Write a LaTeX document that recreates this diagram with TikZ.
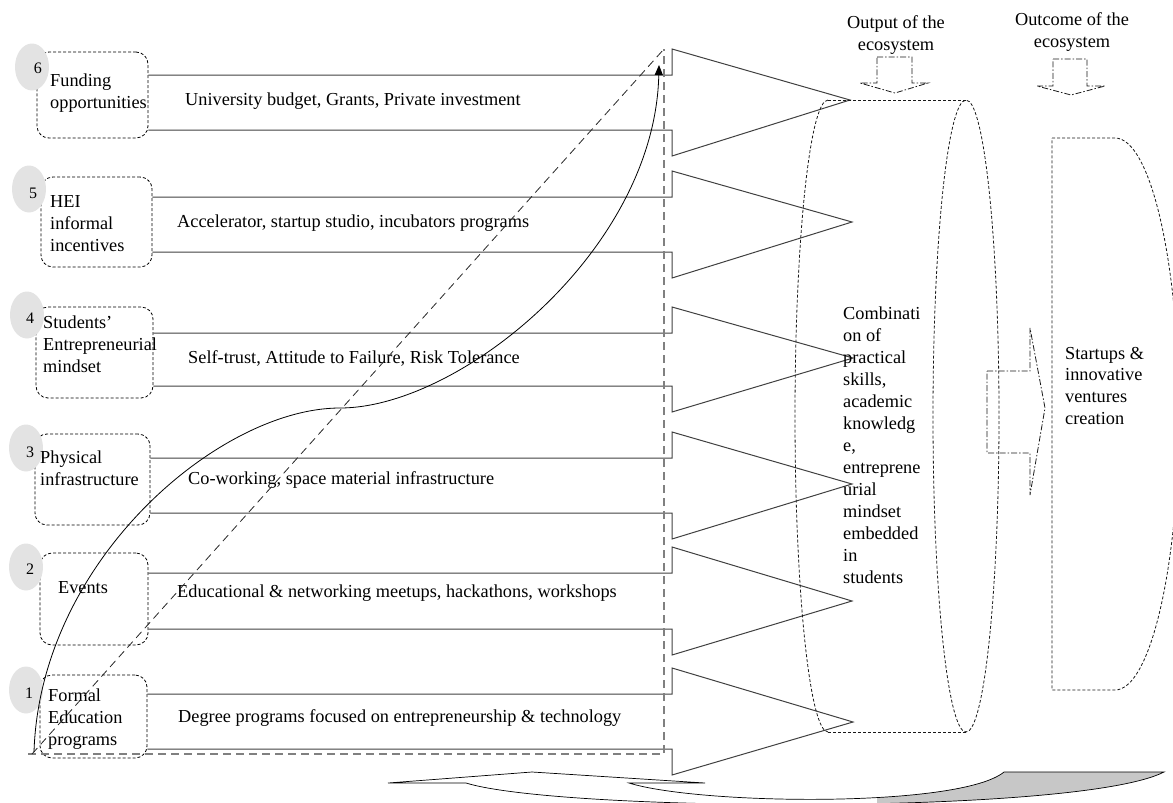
\documentclass[tikz,border=0pt]{standalone}
\usepackage{fontspec}
\setmainfont{Liberation Serif}
\usetikzlibrary{shapes.geometric,arrows.meta}
\tikzstyle{stageBox}=[shape = rectangle, rounded corners = 12pt, draw, dash pattern = on 3pt off 2pt, line width = 0.8pt, inner sep = 0pt]
\tikzstyle{stageBlob}=[shape = ellipse, fill = black!11, minimum width = 34pt, minimum height = 47pt, inner sep = 0pt]
\tikzstyle{plainText}=[inner sep = 0pt, align = left, font = \fontsize{18.3}{22}\selectfont]

\begin{document}
\begin{tikzpicture}[x = 1pt, y = -1pt]
\tikzstyle{bandLine} = [draw = black!75, line width = 1pt]
\tikzstyle{digitText} = [inner sep = 0pt, font = \fontsize{16}{18}\selectfont]
\tikzstyle{thinDash} = [draw = black!90, line width = 0.8pt, dash pattern = on 3pt off 2pt]
\tikzstyle{dotDash} = [draw = black!90, line width = 0.8pt, dash pattern = on 6pt off 2pt on 1.5pt off 2pt]
\tikzstyle{guideDash} = [draw = black!50, line width = 1.5pt, dash pattern = on 8pt off 5pt]
\tikzstyle{slopeDash} = [draw = black!85, line width = 0.8pt, dash pattern = on 8pt off 5pt]
\useasboundingbox (0,0) rectangle (1173,803);
\node[stageBox, minimum width = 111pt, minimum height = 86pt] (fund) at (92.5,95) {};
\node[stageBox, minimum width = 111pt, minimum height = 90pt] (hei) at (96.5,222) {};
\node[stageBox, minimum width = 117pt, minimum height = 91pt] (mind) at (94.5,352.5) {};
\node[stageBox, minimum width = 115pt, minimum height = 91pt] (infra) at (92.5,479.5) {};
\node[stageBox, minimum width = 108pt, minimum height = 92pt] (events) at (94,599) {};
\node[stageBox, minimum width = 107pt, minimum height = 83pt] (formal) at (93.5,716.5) {};
\node[stageBlob] (blob6) at (32,67) {};
\node[stageBlob] (blob5) at (29,189) {};
\node[stageBlob] (blob4) at (27,315) {};
\node[stageBlob] (blob3) at (26,448) {};
\node[stageBlob] (blob2) at (26,567) {};
\node[stageBlob] (blob1) at (26,690) {};
\node[digitText] (num6) at (38,68) {6};
\node[digitText] (num5) at (33,193) {5};
\node[digitText] (num4) at (30,318) {4};
\node[digitText] (num3) at (30,452) {3};
\node[digitText] (num2) at (30,569) {2};
\node[digitText] (num1) at (29,693) {1};
\node[plainText, anchor = west] (fundText) at (50,93) {Funding\\opportunities};
\node[plainText, anchor = west] (heiText) at (50,224) {HEI\\informal\\incentives};
\node[plainText, anchor = west] (mindText) at (43,344) {Students'\\Entrepreneurial\\mindset};
\node[plainText, anchor = west] (infraText) at (40,468) {Physical\\infrastructure};
\node[plainText] (eventsText) at (83,588) {Events};
\node[plainText, anchor = west] (formalText) at (48,719) {Formal\\Education\\programs};
\draw[bandLine] (fund.east |- 0,75) -- (672,75) -- (672,49) -- (850,100) -- (672,156) -- (672,130) -- (fund.east |- 0,130);
\draw[bandLine] (hei.east |- 0,197) -- (672,197) -- (672,171) -- (852,222) -- (672,278) -- (672,252) -- (hei.east |- 0,252);
\draw[bandLine] (mind.east |- 0,333) -- (672,333) -- (672,307) -- (853,358) -- (672,412) -- (672,386) -- (mind.east |- 0,386);
\draw[bandLine] (infra.east |- 0,458) -- (672,458) -- (672,432) -- (852,484) -- (672,539) -- (672,513) -- (infra.east |- 0,513);
\draw[bandLine] (events.east |- 0,573) -- (672,573) -- (672,547) -- (852,601) -- (672,655) -- (672,629) -- (events.east |- 0,629);
\draw[bandLine] (formal.east |- 0,694) -- (672,694) -- (672,668) -- (853,722) -- (672,775) -- (672,749) -- (formal.east |- 0,749);
\node[plainText, anchor = west] (fundNote) at (185,101) {University budget, Grants, Private investment};
\node[plainText, anchor = west] (heiNote) at (177,223) {Accelerator, startup studio, incubators programs};
\node[plainText, anchor = west] (mindNote) at (188,358) {Self-trust, Attitude to Failure, Risk Tolerance};
\node[plainText, anchor = west] (infraNote) at (188,480) {Co-working, space material infrastructure};
\node[plainText, anchor = west] (eventsNote) at (177,593) {Educational \& networking meetups, hackathons, workshops};
\node[plainText, anchor = west] (formalNote) at (178,718) {Degree programs focused on entrepreneurship \& technology};
\coordinate (baseLeft) at (28,754);
\coordinate (slopeStart) at (32,754);
\coordinate (baseRight) at (664,754);
\coordinate (slopeTop) at (664,49);
\coordinate (curveStart) at (34,752);
\coordinate (curveMid) at (340,408);
\coordinate (curveEnd) at (659,65);
\draw[guideDash] (baseLeft) -- (baseRight) -- (slopeTop);
\draw[slopeDash] (slopeStart) -- (slopeTop);
\draw[line width = 0.8pt, -{Triangle[length = 10pt, width = 8pt]}] (curveStart) .. controls (40,560) and (220,408) .. (curveMid) .. controls (460,408) and (655,250) .. (curveEnd);
\draw[thinDash] (828,100) -- (966,100);
\draw[thinDash] (828,732) -- (966,732);
\draw[thinDash] (828,100) arc[start angle = 270, end angle = 90, x radius = 33, y radius = 316];
\draw[thinDash] (966,416) ellipse [x radius = 33, y radius = 316];
\draw[thinDash] (1052,138) -- (1115,138) arc[start angle = -90, end angle = 90, x radius = 64, y radius = 276] -- (1052,690) -- cycle;
\node[plainText] (outputText) at (843,445.5) [anchor = west] {Combinati\\on of\\practical\\skills,\\academic\\knowledg\\e,\\entreprene\\urial\\mindset\\embedded\\in\\students};
\node[plainText] (outcomeText) at (1065,386) [anchor = west] {Startups \&\\innovative\\ventures\\creation};
\node[plainText, align = center] (outputHead) at (896,35) {Output of the\\ecosystem};
\node[plainText, align = center] (outcomeHead) at (1072,32) {Outcome of the\\ecosystem};
\draw[dotDash] (877,57) -- (912,57) -- (912,83) -- (928,83) -- (895,93) -- (860,83) -- (877,83) -- cycle;
\draw[dotDash] (1053,59) -- (1087,59) -- (1087,86) -- (1105,86) -- (1071,95) -- (1037,86) -- (1053,86) -- cycle;
\draw[dotDash] (987,371) -- (1030,371) -- (1030,328) -- (1045,408) -- (1030,495) -- (1030,453) -- (987,453) -- cycle;
\begin{scope}
\clip (877,760) rectangle (1173,803);
\fill[black!22] (1004,772) -- (1164,772) .. controls (1080,815) and (560,812) .. (466,783) -- (629,783) .. controls (700,805) and (960,808) .. (1004,772);
\end{scope}
\draw[line width = 0.7pt] (1004,772) -- (1164,772) .. controls (1080,815) and (560,812) .. (466,783) -- (388,783) -- (532,772) -- (705,783) -- (629,783) .. controls (700,805) and (960,808) .. (1004,772);
\end{tikzpicture}
\end{document}
